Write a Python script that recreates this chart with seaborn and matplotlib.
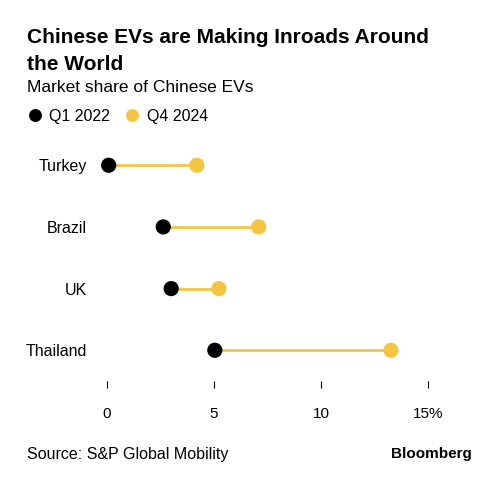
import pandas as pd
import matplotlib.pyplot as plt
import seaborn as sns

# Market share of Chinese EVs (%)
countries = ['Turkey', 'Brazil', 'UK', 'Thailand']
q1_2022 = [0.08, 2.63, 3.0, 5.04]
q4_2024 = [4.2, 7.09, 5.23, 13.27]
periods = ['Q1 2022', 'Q4 2024']
x_ticks = [0, 5, 10, 15]
x_tick_labels = ['0', '5', '10', '15%']

BLACK = '#000000'
YELLOW = '#F4C542'

df = pd.DataFrame({
    'Country': countries * 2,
    'Period': [periods[0]] * len(countries) + [periods[1]] * len(countries),
    'Share': q1_2022 + q4_2024,
})

sns.set_style('white')
plt.rcParams['font.family'] = ['Liberation Sans', 'DejaVu Sans']
plt.rcParams['text.color'] = 'black'
plt.rcParams['xtick.color'] = 'black'
plt.rcParams['ytick.color'] = 'black'

fig = plt.figure(figsize=(5.03, 5.0), dpi=100)
ax = fig.add_axes([0.1616, 0.2378, 0.7531, 0.4934])

# connecting lines between the two periods
ax.hlines(y=countries, xmin=q1_2022, xmax=q4_2024, color=YELLOW, linewidth=2, zorder=1)

sns.scatterplot(
    data=df, x='Share', y='Country', hue='Period',
    palette={periods[0]: BLACK, periods[1]: YELLOW},
    s=120, linewidth=0, ax=ax, zorder=3, legend=True
)

ax.set_xlim(-1.2, 16.5)
ax.set_ylim(3.5, -0.5)
ax.set_xticks(x_ticks)
ax.set_xticklabels(x_tick_labels, fontsize=11)
ax.set_xlabel('')
ax.set_ylabel('')
ax.tick_params(axis='x', direction='out', length=5, width=0.8, pad=13.5, bottom=True)
ax.tick_params(axis='y', length=0, pad=-4, labelsize=11.5)
for lab in ax.get_yticklabels():
    lab.set_horizontalalignment('right')
for s in ax.spines.values():
    s.set_visible(False)
ax.grid(False)

# legend at the top, below the subtitle
handles, labels = ax.get_legend_handles_labels()
ax.legend(
    handles, labels, ncol=2, frameon=False, loc='center left',
    bbox_to_anchor=(0.034, 0.768), bbox_transform=fig.transFigure,
    fontsize=11.5, handletextpad=0.3, columnspacing=0.8, markerscale=0.85,
    borderpad=0, handlelength=1.2
)

# titles and footer
fig.text(0.054, 0.914, 'Chinese EVs are Making Inroads Around', fontsize=15, fontweight='bold', va='baseline')
fig.text(0.054, 0.861, 'the World', fontsize=15, fontweight='bold', va='baseline')
fig.text(0.054, 0.816, 'Market share of Chinese EVs', fontsize=12.5, va='baseline')
fig.text(0.054, 0.082, 'Source: S&P Global Mobility', fontsize=11.5, va='baseline')
fig.text(0.937, 0.084, 'Bloomberg', fontsize=11, fontweight='bold', va='baseline', ha='right')

plt.savefig('out.png', dpi=100)
